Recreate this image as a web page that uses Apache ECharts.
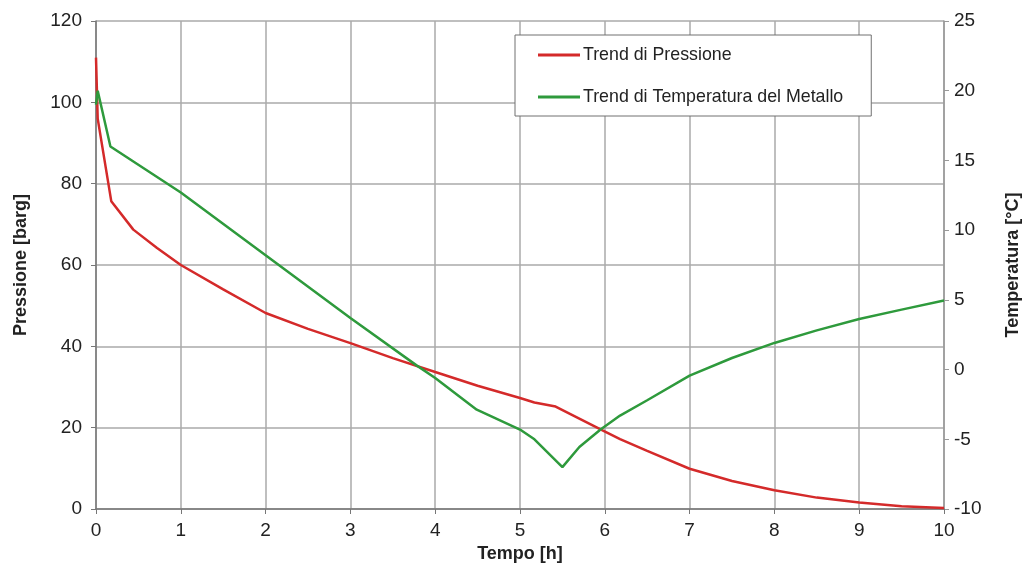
<!DOCTYPE html>
<html>
<head>
<meta charset="utf-8">
<script src="https://cdn.jsdelivr.net/npm/echarts@6/dist/echarts.min.js"></script>
<style>
  html, body { margin: 0; padding: 0; background: #fff; }
  #chart { width: 1023px; height: 568px; }
</style>
</head>
<body>
<div id="chart"></div>
<script>
// tempo [h] e pressione [barg]
const timeP = [0, 0.02, 0.18, 0.44, 0.72, 1, 1.5, 2, 2.5, 3, 3.5, 4, 4.5, 5, 5.17, 5.42, 5.95, 6.18, 6.5, 7, 7.5, 8, 8.5, 9, 9.5, 10];
const pressure = [111, 96, 75.7, 68.7, 64.2, 60, 54, 48.2, 44.3, 40.8, 37.1, 33.7, 30.3, 27.3, 26.2, 25.2, 19.6, 17.2, 14.3, 9.9, 6.9, 4.6, 2.8, 1.6, 0.7, 0.25];
// tempo [h] e temperatura del metallo [°C]
const timeT = [0, 0.02, 0.17, 1, 2, 3, 3.78, 4, 4.49, 5, 5.17, 5.5, 5.7, 5.95, 6.18, 6.5, 7, 7.5, 8, 8.5, 9, 9.5, 10];
const temperature = [19, 20, 16, 12.7, 8.2, 3.7, 0.3, -0.6, -2.88, -4.3, -5.0, -7, -5.55, -4.3, -3.3, -2.2, -0.44, 0.83, 1.91, 2.81, 3.63, 4.3, 4.96];

const seriesNames = ['Trend di Pressione', 'Trend di Temperatura del Metallo'];

const chart = echarts.init(document.getElementById('chart'));
const font = 'Liberation Sans, Arial, sans-serif';
const labelStyle = {color: '#222', fontSize: 19, fontFamily: font};
const nameStyle = {color: '#222', fontSize: 18, fontWeight: 'bold', fontFamily: font};

chart.setOption({
  animation: false,
  grid: {left: 96, right: 79, top: 21, bottom: 59, containLabel: false, outerBoundsMode: 'none'},
  legend: {
    orient: 'vertical',
    left: 515,
    top: 35,
    data: seriesNames,
    backgroundColor: '#fff',
    borderColor: '#707070',
    borderWidth: 1,
    borderRadius: 0,
    padding: [11, 28, 10, 23],
    itemGap: 24,
    itemWidth: 42,
    itemHeight: 3,
    icon: 'rect',
    textStyle: {color: '#222', fontSize: 17.8, fontFamily: font, padding: [0, 0, 0, -2]}
  },
  xAxis: {
    type: 'value',
    min: 0, max: 10, interval: 1,
    name: 'Tempo [h]',
    nameLocation: 'middle',
    nameGap: 33,
    nameTextStyle: nameStyle,
    axisLine: {lineStyle: {color: '#777', width: 1.5}},
    axisTick: {show: true, length: 5, lineStyle: {color: '#777'}},
    axisLabel: Object.assign({margin: 12}, labelStyle),
    splitLine: {show: true, lineStyle: {color: '#aaa', width: 1.5}}
  },
  yAxis: [{
    type: 'value',
    min: 0, max: 120, interval: 20,
    name: 'Pressione [barg]',
    nameLocation: 'middle',
    nameGap: 66,
    nameTextStyle: nameStyle,
    axisLine: {show: true, lineStyle: {color: '#777', width: 1.5}},
    axisTick: {show: true, length: 5, lineStyle: {color: '#777'}},
    axisLabel: Object.assign({margin: 14}, labelStyle),
    splitLine: {show: true, lineStyle: {color: '#aaa', width: 1.5}}
  }, {
    type: 'value',
    min: -10, max: 25, interval: 5,
    name: 'Temperatura [°C]',
    nameLocation: 'middle',
    nameGap: 60,
    nameRotate: 90,
    nameTextStyle: nameStyle,
    position: 'right',
    axisLine: {show: true, lineStyle: {color: '#999', width: 1.5}},
    axisTick: {show: true, length: 5, lineStyle: {color: '#999'}},
    axisLabel: Object.assign({margin: 10}, labelStyle),
    splitLine: {show: false}
  }],
  series: [{
    name: seriesNames[0],
    type: 'line',
    yAxisIndex: 0,
    symbol: 'none',
    color: '#d42a2a',
    lineStyle: {width: 2.5},
    data: timeP.map((t, i) => [t, pressure[i]])
  }, {
    name: seriesNames[1],
    type: 'line',
    yAxisIndex: 1,
    symbol: 'none',
    color: '#2e9a3c',
    lineStyle: {width: 2.5},
    data: timeT.map((t, i) => [t, temperature[i]])
  }]
});
</script>
</body>
</html>
